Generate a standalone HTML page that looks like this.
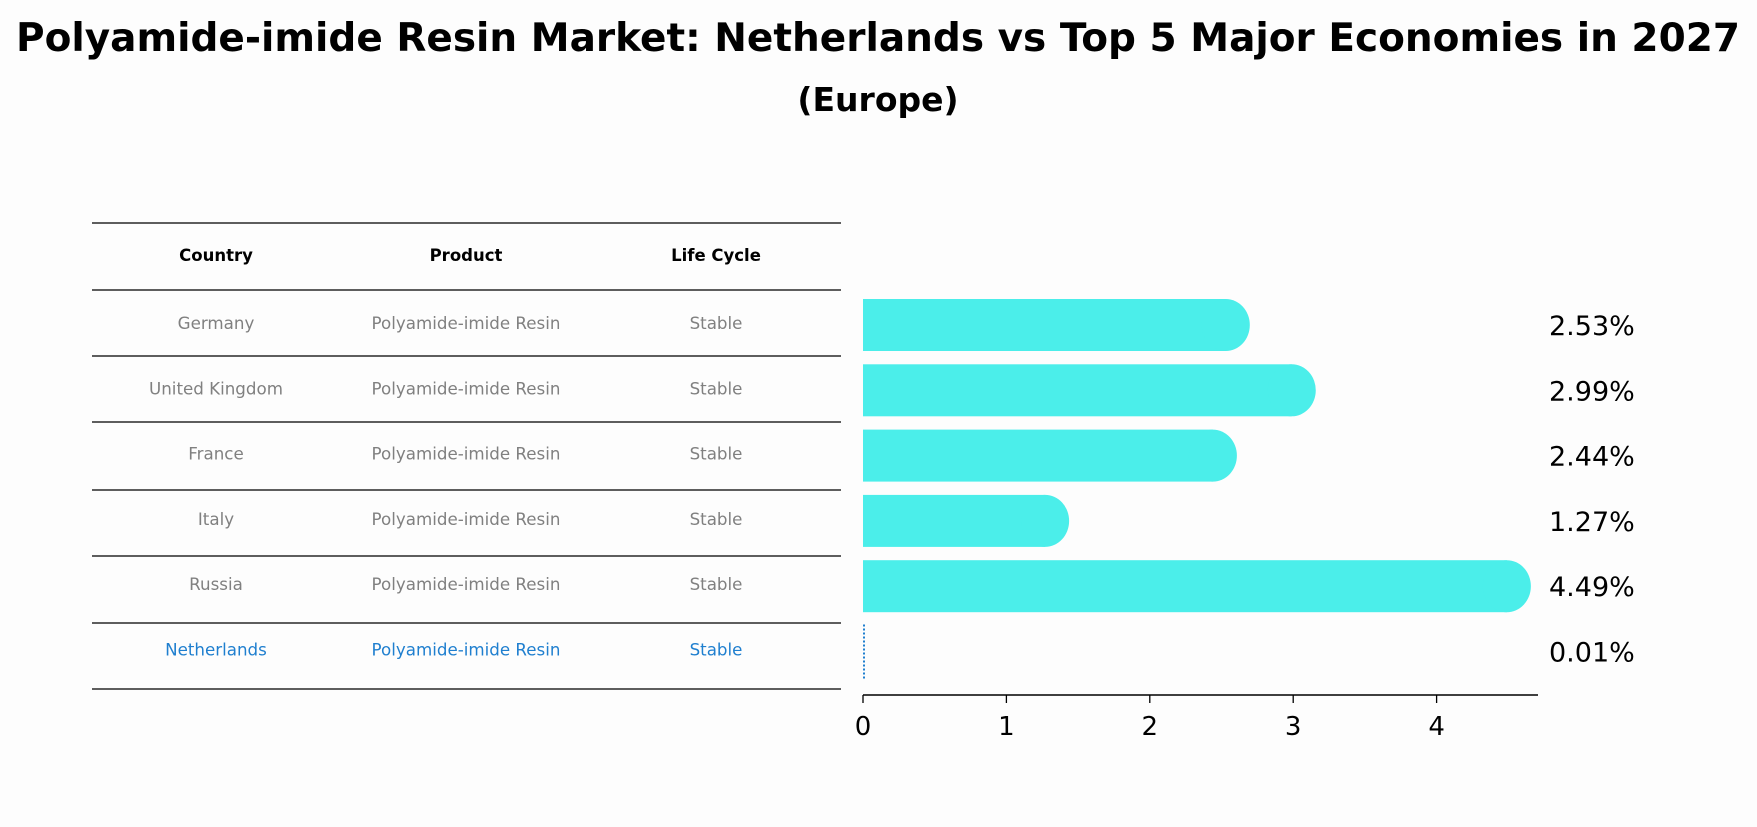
<!DOCTYPE html>
<html><head><meta charset="utf-8"><style>
body{margin:0;background:#fdfdfd;font-family:"DejaVu Sans","Liberation Sans",sans-serif}
</style></head><body>
<svg id="c" width="1757" height="823" xmlns="http://www.w3.org/2000/svg" style="font-family:'DejaVu Sans','Liberation Sans',sans-serif">
<text x="878" y="51" text-anchor="middle" font-size="39" font-weight="bold">Polyamide-imide Resin Market: Netherlands vs Top 5 Major Economies in 2027</text>
<text x="878" y="111" text-anchor="middle" font-size="33" font-weight="bold">(Europe)</text>
<g id="tbl"></g>
<g id="bars"></g>
</svg>
<script>
const countries=["Germany","United Kingdom","France","Italy","Russia","Netherlands"];
const products=["Polyamide-imide Resin","Polyamide-imide Resin","Polyamide-imide Resin","Polyamide-imide Resin","Polyamide-imide Resin","Polyamide-imide Resin"];
const lifecycles=["Stable","Stable","Stable","Stable","Stable","Stable"];
const values=[2.53,2.99,2.44,1.27,4.49,0.01];
const valueLabels=["2.53%","2.99%","2.44%","1.27%","4.49%","0.01%"];
const ticks=[0,1,2,3,4];
const NS="http://www.w3.org/2000/svg";
function mk(tag,attrs,parent){const e=document.createElementNS(NS,tag);for(const k in attrs)e.setAttribute(k,attrs[k]);parent.appendChild(e);return e;}
const tbl=document.getElementById('tbl'),bars=document.getElementById('bars');
const x0=863,unit=143.4,xMax=1538,axisY=695;
const X=v=>x0+v*unit;
const rowY=i=>325+i*65.3;
const lineY=[223,290,356,422,490,556,623,689];
lineY.forEach(y=>{const l=mk('line',{x1:92,x2:841,y1:y,y2:y,stroke:'#000','stroke-width':1.2},tbl);

});
const cols=[216,466,716];
["Country","Product","Life Cycle"].forEach((h,j)=>{const t=mk('text',{x:cols[j],y:261,'text-anchor':'middle','font-size':16.5,'font-weight':'bold'},tbl);t.textContent=h;

});
countries.forEach((c,i)=>{
 const col=i===countries.length-1?'#1f7fcf':'#808080';
 [c,products[i],lifecycles[i]].forEach((s,j)=>{const t=mk('text',{x:cols[j],y:rowY(i)+4,'text-anchor':'middle','font-size':16.7,fill:col},tbl);t.textContent=s;
 
 });
 const v=values[i],cy=rowY(i),h=52;
 if(v<0.05){const l=mk('line',{x1:X(0)+1,x2:X(0)+1,y1:cy-27,y2:cy+27,stroke:'#1f7fcf','stroke-width':2,'stroke-dasharray':'2,2'},bars);
  
  }
 else{const g=mk('g',{},bars);
  
  
  mk('rect',{x:X(0),y:cy-h/2,width:X(v)-X(0),height:h,fill:'#4beeea'},g);
  mk('ellipse',{cx:X(v),cy:cy,rx:24,ry:h/2,fill:'#4beeea'},g);}
 const t=mk('text',{x:1549,y:cy+10,'font-size':27},bars);t.textContent=valueLabels[i];
 
 
});
const ax=mk('line',{x1:X(0),x2:xMax,y1:axisY,y2:axisY,stroke:'#000','stroke-width':1.5},bars);


ticks.forEach(v=>{const l=mk('line',{x1:X(v),x2:X(v),y1:axisY,y2:axisY+8,stroke:'#000','stroke-width':1.3},bars);
 
 
 const t=mk('text',{x:X(v),y:axisY+40,'text-anchor':'middle','font-size':26},bars);t.textContent=v;
 
 });
</script>
</body></html>
